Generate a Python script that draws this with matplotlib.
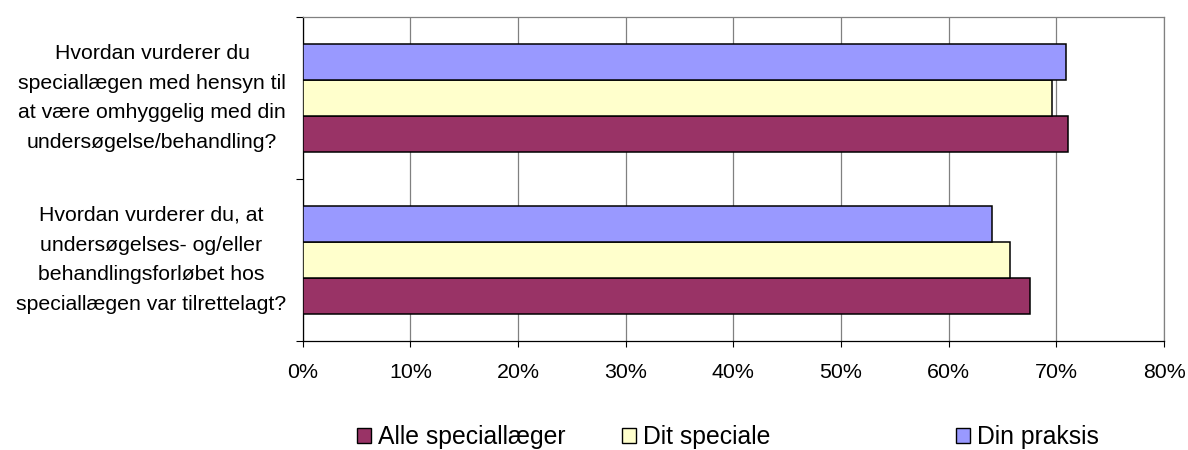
import matplotlib
matplotlib.use("Agg")
import matplotlib.pyplot as plt
from matplotlib.patches import Patch
from matplotlib.transforms import blended_transform_factory
import numpy as np

plt.rcParams['font.family'] = ['Liberation Sans', 'DejaVu Sans']

questions = [
    "Hvordan vurderer du, at\nundersøgelses- og/eller\nbehandlingsforløbet hos\nspeciallægen var tilrettelagt?",
    "Hvordan vurderer du\nspeciallægen med hensyn til\nat være omhyggelig med din\nundersøgelse/behandling?",
]
series_names = ["Alle speciallæger", "Dit speciale", "Din praksis"]
alle = [67.6, 71.1]
speciale = [65.7, 69.6]
praksis = [64.0, 70.9]
colors = ["#993366", "#FFFFCC", "#9999FF"]
x_ticks = [0, 10, 20, 30, 40, 50, 60, 70, 80]

W, H = 1188, 450
fig = plt.figure(figsize=(W / 100, H / 100), dpi=100)
ax = fig.add_axes([302.7 / W, 1 - 341 / H, (1164 - 302.7) / W, (341 - 17) / H])

centers = np.arange(len(questions)) + 0.5
bh = 36 / 162
for i, (vals, col) in enumerate(zip([alle, speciale, praksis], colors)):
    ax.barh(centers + (i - 1) * bh, vals, height=bh, color=col,
            edgecolor="black", linewidth=1.1, zorder=3)

ax.set_xlim(0, 80)
ax.set_ylim(0, len(questions))
ax.set_xticks(x_ticks)
ax.set_xticklabels([f"{t}%" for t in x_ticks], fontsize=15.4)
ax.set_yticks(np.arange(len(questions) + 1))
ax.set_yticklabels([])
ax.tick_params(axis="x", direction="out", length=4, width=0.8, pad=12, colors="black")
ax.tick_params(axis="y", direction="out", length=5, width=0.8, colors="black")

ax.xaxis.grid(True, color="#808080", linewidth=0.9, zorder=0)
ax.set_axisbelow(True)
for side in ("top", "right"):
    ax.spines[side].set_color("#808080")
    ax.spines[side].set_linewidth(0.9)
for side in ("left", "bottom"):
    ax.spines[side].set_color("black")
    ax.spines[side].set_linewidth(0.9)

label_tf = blended_transform_factory(fig.transFigure, ax.transData)
for c, q in zip(centers, questions):
    ax.text(286 / W, c, q, transform=label_tf,
            ha="right", va="center", multialignment="center", fontsize=15.3,
            linespacing=1.72)

legend_x = [357, 622, 956]
for name, col, lx in zip(series_names, colors, legend_x):
    fig.legend(handles=[Patch(facecolor=col, edgecolor="black", linewidth=1.0)],
               labels=[name], loc="center left",
               bbox_to_anchor=(lx / W, 1 - 437 / H), frameon=False,
               fontsize=17.8, borderpad=0, borderaxespad=0,
               handlelength=0.55, handleheight=0.55, handletextpad=0.3)

fig.savefig("out.png", dpi=100)
